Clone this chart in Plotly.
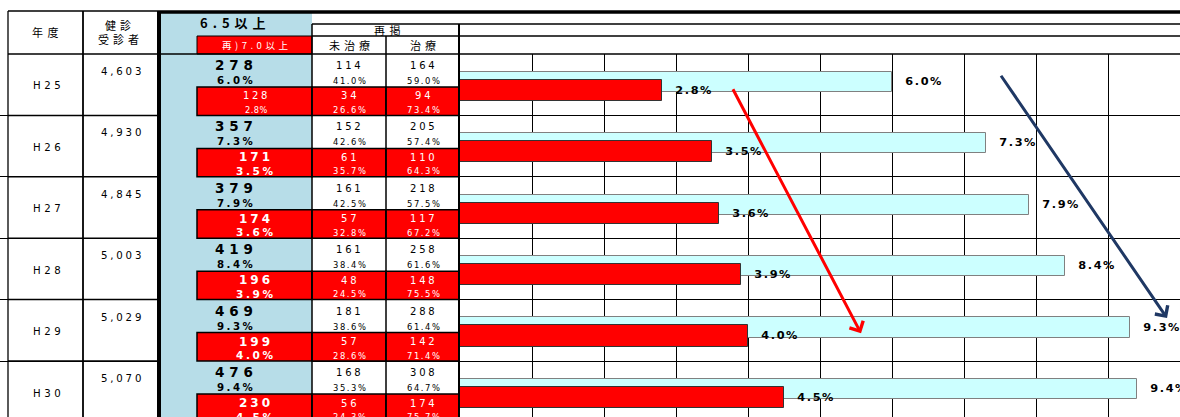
import plotly.graph_objects as go

# ---------------- data ----------------
years = ["H25", "H26", "H27", "H28", "H29", "H30"]
examinees = [4603, 4930, 4845, 5003, 5029, 5070]
n_65 = [278, 357, 379, 419, 469, 476]
pct_65 = [6.0, 7.3, 7.9, 8.4, 9.3, 9.4]
n_65_untreated = [114, 152, 161, 161, 181, 168]
pct_65_untreated = [41.0, 42.6, 42.5, 38.4, 38.6, 35.3]
n_65_treated = [164, 205, 218, 258, 288, 308]
pct_65_treated = [59.0, 57.4, 57.5, 61.6, 61.4, 64.7]
n_70 = [128, 171, 174, 196, 199, 230]
pct_70 = [2.8, 3.5, 3.6, 3.9, 4.0, 4.5]
n_70_untreated = [34, 61, 57, 48, 57, 56]
pct_70_untreated = [26.6, 35.7, 32.8, 24.5, 28.6, 24.3]
n_70_treated = [94, 110, 117, 148, 142, 174]
pct_70_treated = [73.4, 64.3, 67.2, 75.5, 71.4, 75.7]

header_year = "年度"
header_exam = ["健診", "受診者"]
header_65 = "6.5以上"
header_70 = "再)7.0以上"
header_sub = "再掲"
header_untreated = "未治療"
header_treated = "治療"

# ---------------- layout constants ----------------
W, H = 1180, 417
ROW_TOP = 54.0
ROW_H = 61.4
CHART_LEFT = 460
X_L, X_YEAR, X_THICK, X_BLUE0, X_RED0, X_C1, X_C2, X_C3 = 8, 83, 159, 161, 197, 312, 386, 459
RED_OFF = 33
NUM = "DejaVu Sans"
JP = "Noto Sans CJK JP"
RED = "#ff0000"
BLUE = "#b7dde8"
CYAN = "#ccffff"

idx = list(range(len(years)))


def px(x):
    return x / W


def py(y):
    return 1 - y / H


def ry(i, off):
    return i - 0.5 + off / ROW_H


def styled(text, ls=0.0, bold=False):
    if bold:
        text = f"<b>{text}</b>"
    if ls:
        text = f'<span style="letter-spacing:{ls}px">{text}</span>'
    return text


fig = go.Figure()

label_tpl = "\u00a0\u00a0\u00a0" + styled("%{x:.1f}%", 1.6, True)
fig.add_trace(go.Bar(
    x=pct_65, y=idx, orientation="h", width=0.33, offset=-0.21,
    marker=dict(color=CYAN, line=dict(color="#808080", width=1)),
    texttemplate=label_tpl, textposition="outside",
    textfont=dict(family=NUM, size=11.3, color="black"),
    cliponaxis=False, constraintext="none", hoverinfo="skip", showlegend=False,
))
fig.add_trace(go.Bar(
    x=pct_70, y=idx, orientation="h", width=0.345, offset=-0.08,
    marker=dict(color=RED, line=dict(color="#333333", width=1)),
    texttemplate=label_tpl, textposition="outside",
    textfont=dict(family=NUM, size=11.3, color="black"),
    cliponaxis=False, constraintext="none", hoverinfo="skip", showlegend=False,
))

shapes = []
ann = []

# blue column
shapes.append(dict(type="rect", xref="x2", yref="paper", x0=X_BLUE0, x1=X_C1,
                   y0=0, y1=py(12), fillcolor=BLUE, line=dict(width=0), layer="above"))
# header red box
shapes.append(dict(type="rect", xref="x2", yref="paper", x0=X_RED0, x1=X_C1,
                   y0=py(54), y1=py(36), fillcolor=RED, line=dict(color="black", width=1), layer="above"))

# red cells per row
for i in idx:
    for (a, b) in [(X_RED0, X_C1), (X_C1, X_C2), (X_C2, X_C3)]:
        shapes.append(dict(type="rect", xref="x2", yref="y", x0=a, x1=b,
                           y0=ry(i, RED_OFF), y1=i + 0.5, fillcolor=RED,
                           line=dict(color="black", width=1.5), layer="above"))
    shapes.append(dict(type="line", xref="x2", yref="y", x0=X_L, x1=X_THICK,
                       y0=i + 0.5, y1=i + 0.5, line=dict(color="black", width=1.5), layer="above"))


def hline(y, x0, x1, w=1.3):
    shapes.append(dict(type="line", xref="paper", yref="paper", x0=px(x0), x1=px(x1),
                       y0=py(y), y1=py(y), line=dict(color="black", width=w), layer="above"))


def vline(x, y0, y1, w=1.3):
    shapes.append(dict(type="line", xref="paper", yref="paper", x0=px(x), x1=px(x),
                       y0=py(y0), y1=py(y1), line=dict(color="black", width=w), layer="above"))


hline(11, X_L, X_THICK)
hline(12, X_THICK, W, 3.5)
hline(24, X_C1, W)
hline(36, X_C1, W)
hline(54, X_L, W, 1.5)
vline(X_L, 11, H)
vline(X_YEAR, 11, H, 1.8)
vline(X_THICK, 11, H, 4)
vline(X_C1, 24, H, 1.5)
vline(X_C2, 36, H, 1.5)
vline(X_C3, 24, H, 2)


def t_paper(x, y, text, size, family=JP, color="black", bold=False, ls=0.0):
    ann.append(dict(xref="x2", yref="paper", x=x, y=py(y), text=styled(text, ls, bold),
                    showarrow=False, font=dict(family=family, size=size, color=color),
                    xanchor="center", yanchor="middle"))


def t_row(x, i, off, text, size, family=NUM, color="black", bold=False, ls=0.0):
    ann.append(dict(xref="x2", yref="y", x=x, y=ry(i, off), text=styled(text, ls, bold),
                    showarrow=False, font=dict(family=family, size=size, color=color),
                    xanchor="center", yanchor="middle"))


# header texts
t_paper(47, 32, header_year, 11, ls=4.5)
t_paper(120, 25, header_exam[0], 11, ls=4)
t_paper(120, 39, header_exam[1], 11, ls=4)
t_paper(235, 22, header_65, 13, bold=True, ls=5)
t_paper(256, 45, header_70, 9.5, color="white", ls=3.5)
t_paper(389, 30, header_sub, 11, ls=4.5)
t_paper(351, 45.5, header_untreated, 11, ls=4)
t_paper(425, 45.5, header_treated, 11, ls=4)

# row texts
for i in idx:
    t_row(48, i, 32, years[i], 10.2, ls=3.5)
    t_row(122, i, 17.5, f"{examinees[i]:,}", 10.2, ls=2.8)
    t_row(236, i, 11, f"{n_65[i]}", 13.5, bold=True, ls=4.8)
    t_row(236, i, 26.5, f"{pct_65[i]:.1f}%", 10.2, bold=True, ls=2.5)
    if i == 0:
        t_row(256, i, 41.5, f"{n_70[i]}", 10, color="white", ls=2.6)
        t_row(256, i, 56, f"{pct_70[i]:.1f}%", 8.2, color="white", ls=0.5)
    else:
        t_row(256, i, 42, f"{n_70[i]}", 12, color="white", bold=True, ls=3)
        t_row(256, i, 55.5, f"{pct_70[i]:.1f}%", 10.5, color="white", bold=True, ls=2.6)
    t_row(350, i, 11.5, f"{n_65_untreated[i]}", 10, ls=2.8)
    t_row(350, i, 27, f"{pct_65_untreated[i]:.1f}%", 8.4, ls=1.6)
    t_row(424, i, 11.5, f"{n_65_treated[i]}", 10, ls=2.8)
    t_row(424, i, 27, f"{pct_65_treated[i]:.1f}%", 8.4, ls=1.6)
    t_row(350, i, 42, f"{n_70_untreated[i]}", 10, color="white", ls=2.8)
    t_row(350, i, 56, f"{pct_70_untreated[i]:.1f}%", 8.4, color="white", ls=1.6)
    t_row(424, i, 42, f"{n_70_treated[i]}", 10, color="white", ls=2.8)
    t_row(424, i, 56, f"{pct_70_treated[i]:.1f}%", 8.4, color="white", ls=1.6)

# trend arrows
ann.append(dict(xref="x", yref="y", axref="x", ayref="y", x=5.57, y=4.05, ax=3.78, ay=0.05,
                text="", showarrow=True, arrowhead=4, arrowsize=1, arrowwidth=3, arrowcolor=RED))
ann.append(dict(xref="x", yref="y", axref="x", ayref="y", x=9.82, y=3.80, ax=7.5, ay=-0.17,
                text="", showarrow=True, arrowhead=4, arrowsize=1, arrowwidth=3, arrowcolor="#1f3864"))

fig.update_layout(
    width=W, height=H, margin=dict(l=0, r=0, t=0, b=0),
    paper_bgcolor="white", plot_bgcolor="rgba(0,0,0,0)",
    barmode="overlay", bargap=0,
    xaxis=dict(domain=[px(CHART_LEFT), 1], range=[0, 10], dtick=1, showgrid=True,
               gridcolor="black", gridwidth=1, zeroline=False, showticklabels=False,
               ticks="", showline=False, fixedrange=True),
    yaxis=dict(domain=[0, py(ROW_TOP)], range=[(H - ROW_TOP) / ROW_H - 0.5, -0.5],
               tickmode="array", tickvals=[k - 0.5 for k in range(len(years) + 1)],
               showgrid=True, gridcolor="black", gridwidth=1.3, zeroline=False,
               showticklabels=False, ticks="", showline=False, fixedrange=True),
    xaxis2=dict(domain=[0, px(CHART_LEFT)], range=[0, CHART_LEFT], anchor="y",
                visible=False, fixedrange=True),
    shapes=shapes, annotations=ann,
)

fig.write_html("out.html", config={"displayModeBar": False},
               post_script="document.body.style.margin='0';")
